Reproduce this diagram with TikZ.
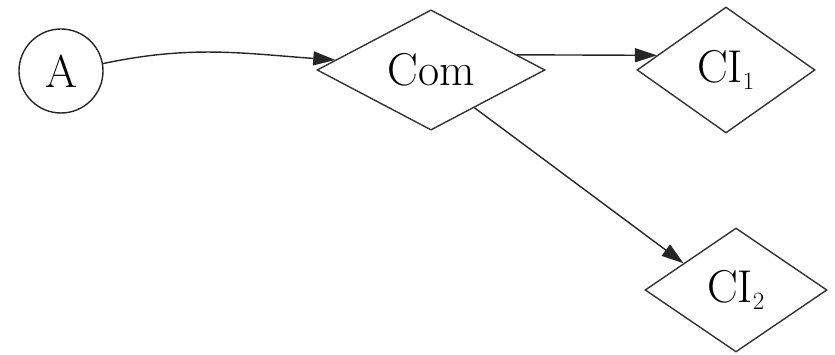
\documentclass[tikz,border=0pt]{standalone}
\usetikzlibrary{shapes.geometric,arrows.meta}
\begin{document}
\begin{tikzpicture}[x=1pt,y=1pt,
  every node/.style={font=\fontsize{46}{54}\selectfont, inner sep=0pt},
  state/.style={draw=black!85, line width=1.4pt, circle, minimum size=84pt},
  choice/.style={draw=black!80, line width=1.4pt, diamond},
  link/.style={draw=black!85, line width=1.4pt,
    -{Triangle[length=22pt,width=14pt]}}]
  \useasboundingbox (0,0) rectangle (835,355);

  % nodes
  \node[state] (A) at (61,284) {A};
  \node[choice, minimum width=228pt, minimum height=106pt] (Com) at (431,285) {Com};
  \node[choice, minimum width=178pt, minimum height=126pt] (CI1) at (726,285) {CI$_1$};
  \node[choice, minimum width=182pt, minimum height=124pt] (CI2) at (736,65) {CI$_2$};

  % connectors
  \draw[link] (A.10) to[out=12, in=176] (Com.174);
  \draw[link] (Com.10) -- (CI1.168);
  \draw[link] (Com.-41) -- (CI2.153);
\end{tikzpicture}
\end{document}
